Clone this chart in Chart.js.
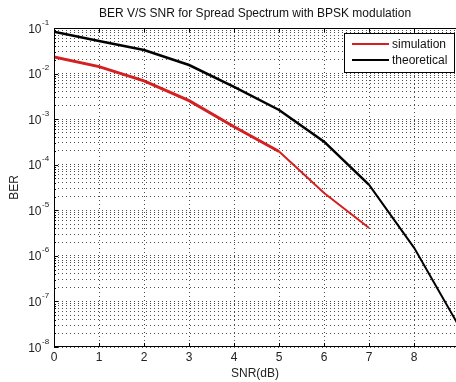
<!DOCTYPE html>
<html>
<head>
<meta charset="utf-8">
<script src="https://cdn.jsdelivr.net/npm/chart.js@4.4.1/dist/chart.umd.min.js"></script>
<style>
  html, body { margin: 0; padding: 0; background: #fff; }
  #wrap { width: 456px; height: 382px; }
</style>
</head>
<body>
<div id="wrap"><canvas id="c" width="456" height="382"></canvas></div>
<script>
// ---- data ----
const snrSim = [0, 1, 2, 3, 4, 5, 6, 7];
const berSim = [2.3e-2, 1.42e-2, 6.9e-3, 2.55e-3, 6.8e-4, 1.95e-4, 2.4e-5, 4.1e-6];
const snrTheo = [0, 1, 2, 3, 4, 5, 6, 7, 8, 9];
const berTheo = [8.3e-2, 5.2e-2, 3.3e-2, 1.54e-2, 5.1e-3, 1.59e-3, 3.2e-4, 3.6e-5, 1.5e-6, 2.8e-8];
const xTicks = [0, 1, 2, 3, 4, 5, 6, 7, 8];
const yDecadeExps = [-8, -7, -6, -5, -4, -3, -2, -1];
const seriesLabels = ['simulation', 'theoretical'];
const titleText = 'BER V/S SNR for Spread Spectrum with BPSK modulation';
const xTitle = 'SNR(dB)';
const yTitle = 'BER';

const FONT = '"Liberation Sans", Arial, sans-serif';
Chart.defaults.font.family = FONT;
Chart.defaults.color = '#222';

const RED = '#d42020';
const BLACK = '#000000';

function toPoints(xs, ys) { return xs.map((x, i) => ({ x: x, y: ys[i] })); }

// all log ticks: 1..9 x 10^k for each decade, plus the top decade
const yTickValues = [];
yDecadeExps.forEach((e, i) => {
  if (i < yDecadeExps.length - 1) {
    for (let m = 1; m <= 9; m++) yTickValues.push(+(m * Math.pow(10, e)).toPrecision(6));
  } else {
    yTickValues.push(Math.pow(10, e));
  }
});
function isDecade(v) { const l = Math.log10(v); return Math.abs(l - Math.round(l)) < 1e-6; }

const gridColor = 'rgba(0,0,0,0.7)';

const framePlugin = {
  id: 'frame',
  afterDatasetsDraw(chart) {
    const { ctx, chartArea: a, scales } = chart;
    ctx.save();
    ctx.strokeStyle = '#000';
    ctx.lineWidth = 1;
    ctx.setLineDash([]);
    ctx.beginPath();
    ctx.moveTo(Math.round(a.left) + 0.5, a.top);
    ctx.lineTo(Math.round(a.left) + 0.5, a.bottom);
    ctx.moveTo(a.left, Math.round(a.top) + 0.5);
    ctx.lineTo(a.right, Math.round(a.top) + 0.5);
    ctx.moveTo(a.left, Math.round(a.bottom) - 0.5);
    ctx.lineTo(a.right, Math.round(a.bottom) - 0.5);
    scales.x.ticks.forEach(t => {
      const px = Math.round(scales.x.getPixelForValue(t.value)) + 0.5;
      ctx.moveTo(px, a.bottom); ctx.lineTo(px, a.bottom - 4);
      ctx.moveTo(px, a.top); ctx.lineTo(px, a.top + 4);
    });
    scales.y.ticks.forEach(t => {
      const py = Math.round(scales.y.getPixelForValue(t.value)) + 0.5;
      const len = isDecade(t.value) ? 4 : 2;
      ctx.moveTo(a.left, py); ctx.lineTo(a.left + len, py);
    });
    ctx.stroke();

    // legend box (inside plot, top right)
    const lx = 344, ly = 33, lw = 111, lh = 40;
    ctx.fillStyle = '#fff';
    ctx.fillRect(lx, ly, lw, lh);
    ctx.strokeRect(lx + 0.5, ly + 0.5, lw - 1, lh - 1);
    const ds = chart.data.datasets;
    const rows = [44, 60];
    ds.forEach((d, i) => {
      ctx.strokeStyle = d.borderColor;
      ctx.lineWidth = 2;
      ctx.beginPath();
      ctx.moveTo(352, rows[i]); ctx.lineTo(389, rows[i]);
      ctx.stroke();
      ctx.fillStyle = '#111';
      ctx.font = '12px ' + FONT;
      ctx.textAlign = 'left';
      ctx.textBaseline = 'middle';
      ctx.fillText(d.label, 392, rows[i] + 0.5);
    });
    ctx.restore();
  },
  afterDraw(chart) {
    const { ctx, scales } = chart;
    const y = scales.y;
    ctx.save();
    ctx.fillStyle = '#222';
    y.ticks.forEach(t => {
      if (!isDecade(t.value)) return;
      const py = y.getPixelForValue(t.value);
      const e = Math.round(Math.log10(t.value));
      ctx.font = '12px ' + FONT;
      ctx.textAlign = 'right';
      ctx.textBaseline = 'alphabetic';
      ctx.fillText('10', 41.5, py + 4.5);
      ctx.font = '8px ' + FONT;
      ctx.textAlign = 'left';
      ctx.fillText(String(e), 42, py - 3.5);
    });
    ctx.restore();
  }
};

new Chart(document.getElementById('c'), {
  type: 'line',
  data: {
    datasets: [
      {
        label: seriesLabels[0],
        data: toPoints(snrSim, berSim),
        borderColor: RED,
        backgroundColor: RED,
        borderWidth: 3,
        pointRadius: 0,
        tension: 0,
        segment: { borderWidth: c => (c.p0DataIndex >= 5 ? 2 : 3) }
      },
      {
        label: seriesLabels[1],
        data: toPoints(snrTheo, berTheo),
        borderColor: BLACK,
        backgroundColor: BLACK,
        borderWidth: 2.5,
        pointRadius: 0,
        tension: 0,
        segment: { borderWidth: c => (c.p0DataIndex >= 7 ? 2 : 2.5) }
      }
    ]
  },
  options: {
    responsive: false,
    animation: false,
    layout: { padding: { left: 0, right: 0, top: 0, bottom: 0 } },
    plugins: {
      legend: { display: false },
      tooltip: { enabled: false },
      title: {
        display: true,
        fullSize: false,
        text: titleText,
        color: '#111',
        font: { size: 12, weight: 'normal', family: FONT },
        padding: { top: 6, bottom: 7.6 }
      }
    },
    scales: {
      x: {
        type: 'linear',
        min: 0,
        max: 8.93,
        afterBuildTicks: s => { s.ticks = xTicks.map(v => ({ value: v })); },
        afterFit: s => { s.height = 35; },
        ticks: { font: { size: 12 }, color: '#222', padding: 3, autoSkip: false, maxRotation: 0 },
        grid: { color: gridColor, lineWidth: 1, drawTicks: false },
        border: { display: false, dash: [1, 3] },
        title: { display: true, text: xTitle, color: '#222', font: { size: 12 }, padding: { top: 0, bottom: 1 } }
      },
      y: {
        type: 'logarithmic',
        min: 1e-8,
        max: 1e-1,
        afterBuildTicks: s => { s.ticks = yTickValues.map(v => ({ value: v, major: isDecade(v) })); },
        afterFit: s => { s.width = 54; },
        ticks: { display: false, autoSkip: false },
        grid: { color: gridColor, lineWidth: 1, drawTicks: false },
        border: { display: false, dash: [1, 3] },
        title: { display: true, text: yTitle, color: '#222', font: { size: 12 }, padding: { top: 7.8, bottom: 0 } }
      }
    }
  },
  plugins: [framePlugin]
});
</script>
</body>
</html>
